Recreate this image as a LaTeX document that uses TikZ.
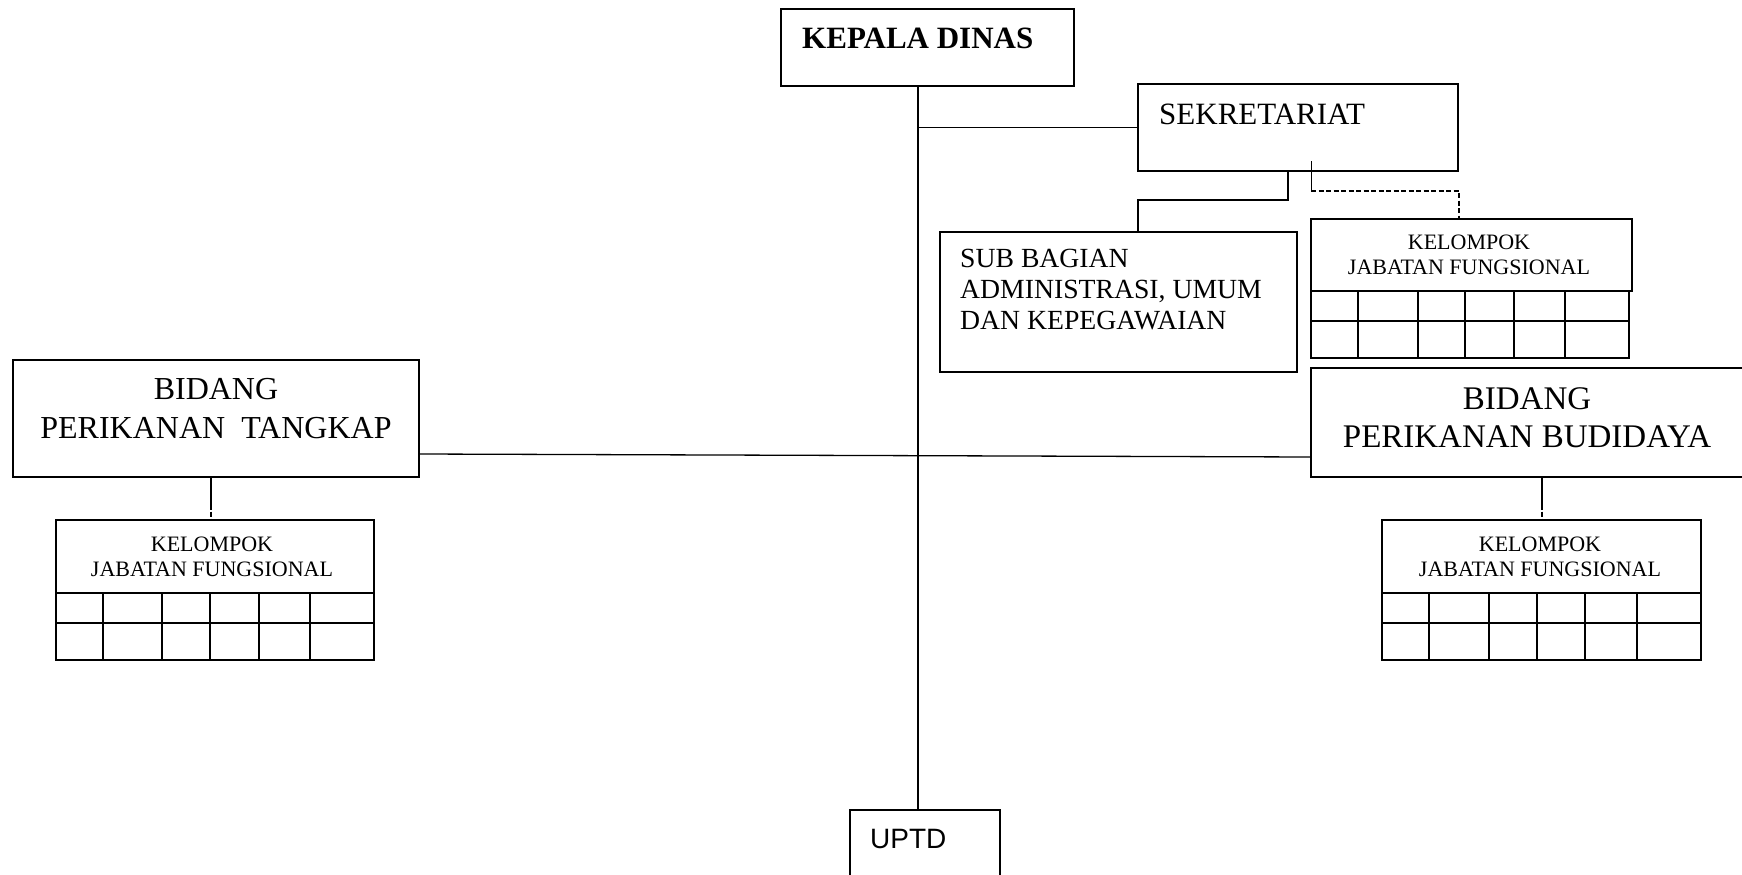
\documentclass[tikz,border=0pt]{standalone}
\usepackage{fontspec}
\setmainfont{Liberation Serif}
\newfontfamily\uptdfont{Liberation Sans}
\begin{document}
\begin{tikzpicture}[x=1pt,y=-1pt,
  box/.style={draw, rectangle, line width=1.3pt, inner sep=0pt},
  conn/.style={line width=1.3pt},
  thinline/.style={line width=0.5pt},
  dashconn/.style={line width=1.3pt, dash pattern=on 5pt off 2.5pt},
  longdash/.style={line width=1.3pt, dash pattern=on 32pt off 2pt on 5pt off 2pt},
  gridline/.style={line width=1.3pt},
  lbl/.style={inner sep=0pt}]
\clip (0,0) rectangle (1742,875);
\useasboundingbox (0,0) rectangle (1742,875);

% boxes
\node[box, minimum width=293pt, minimum height=77pt] (kd) at (927.5,47.5) {};
\node[box, minimum width=320pt, minimum height=87pt] (sek) at (1298,127.5) {};
\node[box, minimum width=357pt, minimum height=140pt] (sub) at (1118.5,302) {};
\node[box, minimum width=321pt, minimum height=72pt] (kjfa) at (1471.5,255) {};
\node[box, minimum width=406pt, minimum height=117pt] (tangkap) at (216,418.5) {};
\node[box, minimum width=449pt, minimum height=109pt] (budidaya) at (1535.5,422.5) {};
\node[box, minimum width=318pt, minimum height=73pt] (kjfb) at (215,556.5) {};
\node[box, minimum width=319pt, minimum height=73pt] (kjfc) at (1541.5,556.5) {};
\node[box, minimum width=150pt, minimum height=90pt] (uptd) at (925,855) {};

% labels
\node[lbl, anchor=west] (kdt) at (802,38) {\fontsize{31}{34}\selectfont\bfseries KEPALA DINAS};
\node[lbl, anchor=west] (sekt) at (1159,114) {\fontsize{31}{34}\selectfont SEKRETARIAT};
\node[lbl, anchor=west, align=left, font=\fontsize{27.7}{31}\selectfont] (subt) at (960,290) {SUB BAGIAN\\ADMINISTRASI, UMUM\\DAN KEPEGAWAIAN};
\node[lbl, align=center, font=\fontsize{22}{25}\selectfont] (kjfat) at (1469,255) {KELOMPOK\\JABATAN FUNGSIONAL};
\node[lbl, align=center, font=\fontsize{32}{39}\selectfont] (tangkapt) at (216,408.5) {BIDANG\\PERIKANAN\ \ TANGKAP};
\node[lbl, align=center, font=\fontsize{33}{38}\selectfont] (budidayat) at (1527,418) {BIDANG\\PERIKANAN BUDIDAYA};
\node[lbl, align=center, font=\fontsize{22}{25}\selectfont] (kjfbt) at (212,556.5) {KELOMPOK\\JABATAN FUNGSIONAL};
\node[lbl, align=center, font=\fontsize{22}{25}\selectfont] (kjfct) at (1540,556.5) {KELOMPOK\\JABATAN FUNGSIONAL};
\node[lbl, anchor=west] (uptdt) at (870,839) {\uptdfont\fontsize{28}{32}\selectfont UPTD};

% grids
\draw[gridline] (1311,291) rectangle (1629,358);
\draw[gridline] (1311,321) -- (1629,321);
\foreach \x in {1358,1418,1465,1514,1565} \draw[gridline] (\x,291) -- (\x,358);

\draw[gridline] (56,593) rectangle (374,660);
\draw[gridline] (56,623) -- (374,623);
\foreach \x in {103,162,210,259,310} \draw[gridline] (\x,593) -- (\x,660);

\draw[gridline] (1382,593) rectangle (1701,660);
\draw[gridline] (1382,623) -- (1701,623);
\foreach \x in {1429,1489,1537,1585,1637} \draw[gridline] (\x,593) -- (\x,660);

% connectors
\coordinate (trunk) at (918,0);
\draw[conn] (kd.south -| trunk) -- (uptd.north -| trunk);
\draw[conn] (sek.west) -- (sek.west -| trunk);
\coordinate (sekdrop) at (1288,200);
\coordinate (subup) at (1138,200);
\draw[conn] (sek.south -| sekdrop) -- (sekdrop) -- (subup) -- (sub.north -| subup);
\coordinate (thintop) at (1311,161);
\coordinate (thinbot) at (1311,191);
\coordinate (dashcorner) at (1459,191);
\draw[thinline] (thintop) -- (thinbot);
\draw[dashconn] (thinbot) -- (dashcorner) -- (kjfa.north -| dashcorner);
\draw[conn] (tangkap.east |- 0,454) -- (budidaya.west |- 0,457);
\coordinate (ltap) at (211,0);
\draw[longdash] (tangkap.south -| ltap) -- (kjfb.north -| ltap);
\coordinate (rtap) at (1542,0);
\draw[longdash] (budidaya.south -| rtap) -- (kjfc.north -| rtap);
\end{tikzpicture}
\end{document}
